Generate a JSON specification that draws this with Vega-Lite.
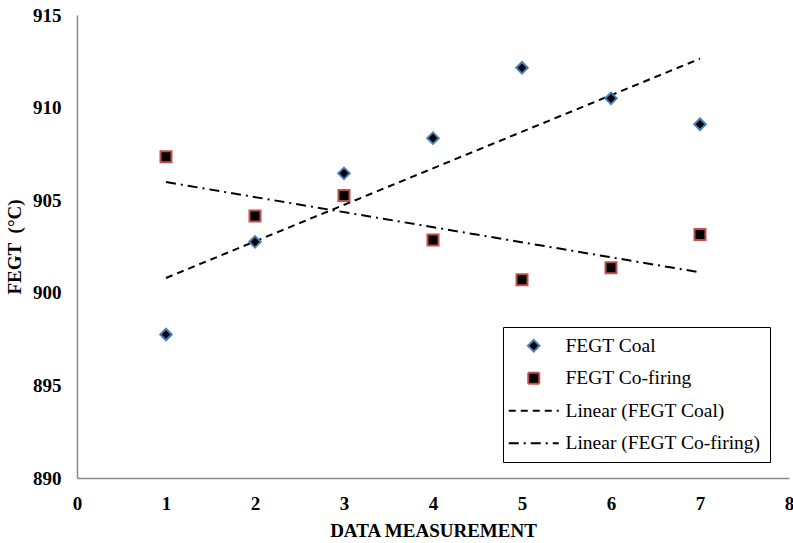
{
  "$schema": "https://vega.github.io/schema/vega-lite/v6.json",
  "width": 712,
  "height": 463,
  "autosize": {"type": "none"},
  "padding": {"left": 77, "top": 15, "right": 4, "bottom": 65},
  "background": "white",
  "config": {"view": {"stroke": null}, "font": "Liberation Serif", "legend": {"labelFont": "Liberation Serif"}},
  "data": {
    "values": [
      {"x": 1, "y": 897.75, "series": "FEGT Coal"},
      {"x": 2, "y": 902.75, "series": "FEGT Coal"},
      {"x": 3, "y": 906.45, "series": "FEGT Coal"},
      {"x": 4, "y": 908.35, "series": "FEGT Coal"},
      {"x": 5, "y": 912.15, "series": "FEGT Coal"},
      {"x": 6, "y": 910.5, "series": "FEGT Coal"},
      {"x": 7, "y": 909.1, "series": "FEGT Coal"},
      {"x": 1, "y": 907.35, "series": "FEGT Co-firing"},
      {"x": 2, "y": 904.15, "series": "FEGT Co-firing"},
      {"x": 3, "y": 905.25, "series": "FEGT Co-firing"},
      {"x": 4, "y": 902.85, "series": "FEGT Co-firing"},
      {"x": 5, "y": 900.7, "series": "FEGT Co-firing"},
      {"x": 6, "y": 901.35, "series": "FEGT Co-firing"},
      {"x": 7, "y": 903.15, "series": "FEGT Co-firing"}
    ]
  },
  "encoding": {
    "x": {
      "field": "x", "type": "quantitative",
      "scale": {"domain": [0, 8], "nice": false, "zero": false},
      "axis": {
        "title": "DATA MEASUREMENT", "values": [0,1,2,3,4,5,6,7,8],
        "grid": false, "ticks": false, "domainColor": "#898989", "domainWidth": 1.5,
        "labelFont": "Liberation Serif", "labelFontSize": 19, "labelFontWeight": "bold", "labelColor": "black",
        "labelPadding": 16, "labelFlush": false,
        "titleFont": "Liberation Serif", "titleFontSize": 19, "titleFontWeight": "bold", "titleColor": "black",
        "titlePadding": 8
      }
    },
    "y": {
      "field": "y", "type": "quantitative",
      "scale": {"domain": [890, 915], "nice": false, "zero": false},
      "axis": {
        "title": "FEGT\u00a0\u00a0(°C)", "values": [890,895,900,905,910,915],
        "grid": false, "ticks": false, "domainColor": "#898989", "domainWidth": 1.5,
        "labelFont": "Liberation Serif", "labelFontSize": 19, "labelFontWeight": "bold", "labelColor": "black",
        "labelPadding": 16, "labelFlush": false,
        "titleFont": "Liberation Serif", "titleFontSize": 19, "titleFontWeight": "bold", "titleColor": "black",
        "titlePadding": 8
      }
    }
  },
  "layer": [
    {
      "transform": [
        {"regression": "y", "on": "x", "groupby": ["series"], "extent": [1, 7]},
        {"calculate": "'Linear (' + datum.series + ')'", "as": "series"}
      ],
      "mark": {"type": "line", "strokeWidth": 2},
      "encoding": {
        "stroke": {
          "field": "series", "type": "nominal",
          "scale": {"domain": ["FEGT Coal", "FEGT Co-firing", "Linear (FEGT Coal)", "Linear (FEGT Co-firing)"], "range": ["#4A7EBB", "#C0504D", "black", "black"]},
          "legend": {
            "title": null, "orient": "none", "legendX": 426, "legendY": 312,
            "strokeColor": "black", "fillColor": "white", "padding": 9,
            "symbolSize": 100, "symbolOffset": 12, "symbolStrokeWidth": 2, "labelOffset": 22,
            "labelFont": "Liberation Serif", "labelFontSize": 19.5, "labelColor": "black", "labelLimit": 0,
            "rowPadding": 11.5
          }
        },
        "strokeDash": {
          "field": "series", "type": "nominal",
          "scale": {"domain": ["FEGT Coal", "FEGT Co-firing", "Linear (FEGT Coal)", "Linear (FEGT Co-firing)"], "range": [[1, 0], [1, 0], [7, 5], [10, 5, 2, 5]]}
        }
      }
    },
    {
      "mark": {"type": "point", "size": 100, "strokeWidth": 2, "opacity": 1},
      "encoding": {
        "shape": {
          "field": "series", "type": "nominal",
          "scale": {"domain": ["FEGT Coal", "FEGT Co-firing", "Linear (FEGT Coal)", "Linear (FEGT Co-firing)"], "range": ["M0,-1.15L1.15,0L0,1.15L-1.15,0Z", "M-1.1,-1.1H1.1V1.1H-1.1Z", "M-5,0H5", "M-5,0H5"]}
        },
        "fill": {
          "field": "series", "type": "nominal",
          "scale": {"domain": ["FEGT Coal", "FEGT Co-firing", "Linear (FEGT Coal)", "Linear (FEGT Co-firing)"], "range": ["black", "black", "transparent", "transparent"]}
        },
        "stroke": {"field": "series", "type": "nominal"}
      }
    }
  ]
}
